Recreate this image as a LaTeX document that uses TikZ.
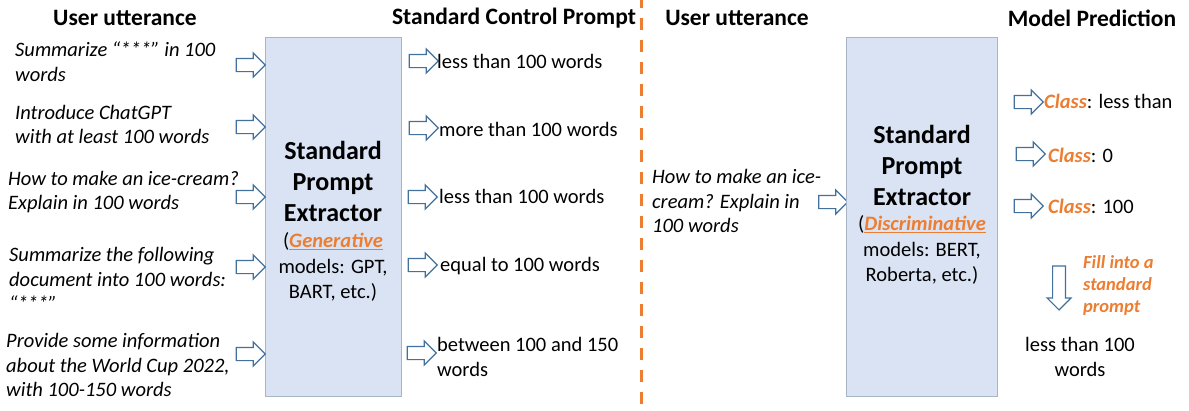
\documentclass[tikz,border=0pt]{standalone}
\usepackage{fontspec}
\setmainfont{Carlito}
\usetikzlibrary{shapes.arrows}
\definecolor{boxfill}{HTML}{DAE3F3}
\definecolor{boxline}{HTML}{A9B4C8}
\definecolor{arrline}{HTML}{41719C}
\definecolor{accent}{HTML}{ED7D31}
\tikzset{
  heading/.style={font=\fontsize{23.5}{28}\selectfont\bfseries, inner sep=0pt},
  utter/.style={font=\fontsize{20.5}{24.7}\selectfont\itshape, align=left, anchor=west, inner sep=0pt},
  plain/.style={font=\fontsize{20.5}{25}\selectfont, align=left, anchor=west, inner sep=0pt},
  extractor/.style={draw=boxline, fill=boxfill, line width=0.8pt, inner sep=0pt},
  boxtitle/.style={font=\fontsize{26}{31}\selectfont\bfseries, align=center, inner sep=0pt},
  boxsub/.style={font=\fontsize{20.5}{25.5}\selectfont, align=center, inner sep=0pt},
  barrow/.style={single arrow, draw=arrline, fill=white, line width=1.2pt,
    text height=0pt, text depth=0pt, text width=0pt, inner xsep=0pt, inner ysep=6pt,
    single arrow head extend=5.5pt, minimum width=23pt, minimum height=29pt},
  fillnote/.style={font=\fontsize{18.5}{22}\selectfont\bfseries\itshape, text=accent, align=left, anchor=west, inner sep=0pt},
}
\newcommand{\hl}[1]{\textcolor{accent}{\textbf{\textit{#1}}}}
\begin{document}
\begin{tikzpicture}[x=1pt,y=-1pt]
\useasboundingbox (0,0) rectangle (1189,410);
% headings
\node[heading] (h1) at (125,18) {User utterance};
\node[heading] (h2) at (514,18) {Standard Control Prompt};
\node[heading] (h3) at (737,18) {User utterance};
\node[heading] (h4) at (1092,18) {Model Prediction};
% divider
\coordinate (dtop) at (641.5,0);
\coordinate (dbot) at (641.5,410);
\draw[accent, line width=3pt, dash pattern=on 12pt off 10pt, dash phase=4pt] (dtop) -- (dbot);
% left extractor box
\node[extractor, minimum width=136pt, minimum height=359pt] (box1) at (333,216.5) {};
\node[boxtitle] (b1t) at (333,181) {Standard\\Prompt\\Extractor};
\node[boxsub] (b1s) at (333,267) {(\textcolor{accent}{\underline{\textbf{\textit{Generative}}}}\\models: GPT,\\BART, etc.)};
% user utterances
\node[utter] (u1) at (15,62) {Summarize “***” in 100\\words};
\node[utter] (u2) at (15,124.5) {Introduce ChatGPT\\with at least 100 words};
\node[utter] (u3) at (8,192) {How to make an ice-cream?\\Explain in 100 words};
\node[utter] (u4) at (9,279) {Summarize the following\\document into 100 words:\\“***”};
\node[utter] (u5) at (6,365) {Provide some information\\about the World Cup 2022,\\with 100-150 words};
% input arrows
\node[barrow] (ia1) at (247.5,65) {};
\node[barrow] (ia2) at (247.5,127) {};
\node[barrow] (ia3) at (247.5,197) {};
\node[barrow] (ia4) at (247.5,267) {};
\node[barrow] (ia5) at (247.5,354) {};
% output arrows
\node[barrow] (oa1) at (420.5,61) {};
\node[barrow] (oa2) at (420.5,128) {};
\node[barrow] (oa3) at (419.5,197) {};
\node[barrow] (oa4) at (419.5,265) {};
\node[barrow] (oa5) at (418.5,353) {};
% control prompts
\node[plain] (c1) at (437,61) {less than 100 words};
\node[plain] (c2) at (439,129) {more than 100 words};
\node[plain] (c3) at (439,196) {less than 100 words};
\node[plain] (c4) at (440,266) {equal to 100 words};
\node[plain] (c5) at (437,356.5) {between 100 and 150\\words};
% right part
\node[utter] (ru) at (652,201) {How to make an ice-\\cream? Explain in\\100 words};
\node[barrow] (ra) at (830,202) {};
\node[extractor, minimum width=151pt, minimum height=359pt] (box2) at (922,216.5) {};
\node[boxtitle] (b2t) at (922,165) {Standard\\Prompt\\Extractor};
\node[boxsub] (b2s) at (922,250) {(\textcolor{accent}{\underline{\textbf{\textit{Discriminative}}}}\\models: BERT,\\Roberta, etc.)};
% predictions
\node[barrow] (pa1) at (1025.5,102) {};
\node[barrow] (pa2) at (1027.5,154) {};
\node[barrow] (pa3) at (1025.5,206) {};
\node[plain] (p1) at (1044,101) {\hl{Class}: less than};
\node[plain] (p2) at (1048,155) {\hl{Class}: 0};
\node[plain] (p3) at (1048,206) {\hl{Class}: 100};
% fill arrow
\node[barrow, rotate=-90, minimum height=44pt, inner ysep=5.8pt, minimum width=22pt] (da) at (1059,284.7) {};
\node[fillnote] (fn) at (1083,285) {Fill into a\\standard\\prompt};
\node[plain, align=center, anchor=center] (res) at (1080,356.5) {less than 100\\words};
\end{tikzpicture}
\end{document}
